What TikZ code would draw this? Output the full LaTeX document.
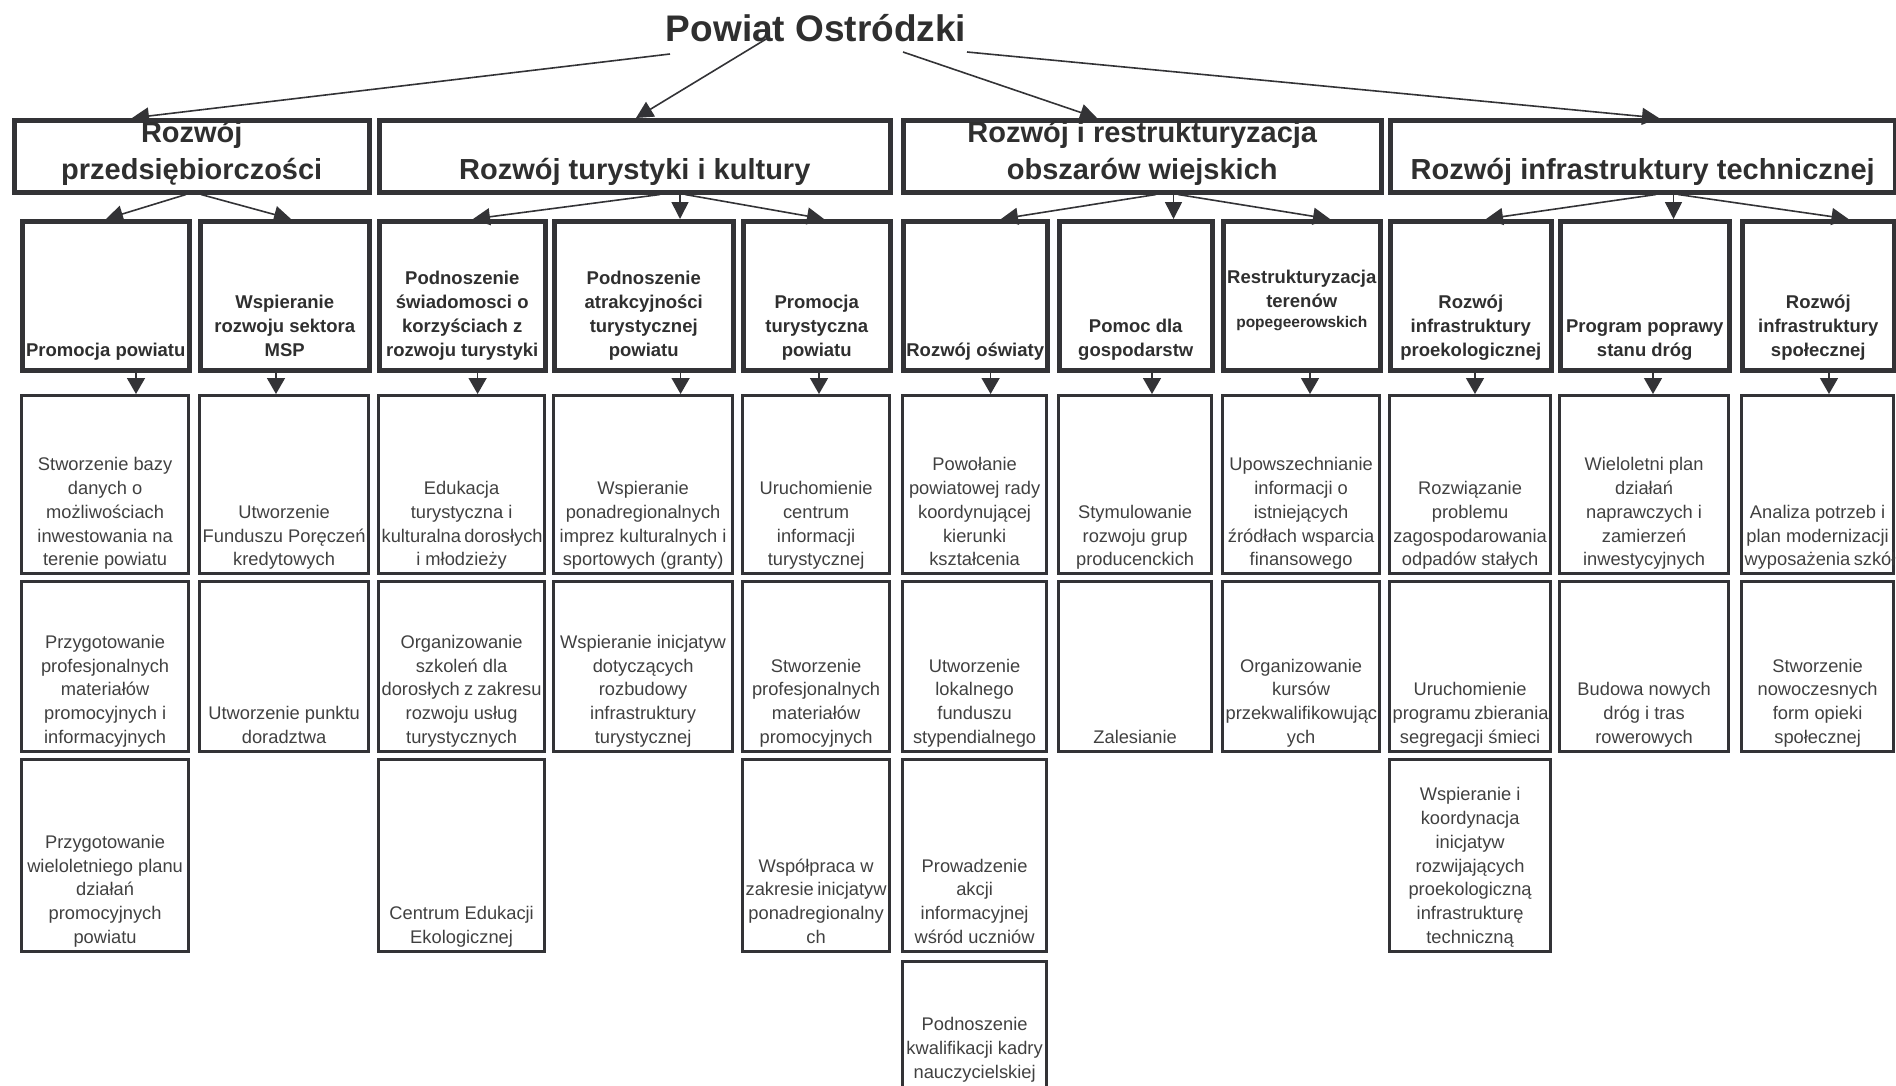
\documentclass[tikz,border=0pt]{standalone}
\usepackage{fontspec}
\setmainfont{Liberation Sans}
\usetikzlibrary{arrows.meta}
\definecolor{linec}{HTML}{333336}
\definecolor{txta}{HTML}{2F2F2F}
\definecolor{txtc}{HTML}{404040}
\newcommand\fontT{\fontsize{37}{44}\selectfont\bfseries}
\newcommand\fontA{\fontsize{29}{37}\selectfont\bfseries}
\newcommand\fontB{\fontsize{18.5}{24}\selectfont\bfseries}
\newcommand\fontC{\fontsize{18.3}{23.8}\selectfont}
\newcommand\bt[4]{\parbox[c][#2pt][b]{\dimexpr #1pt-6pt\relax}{\hyphenpenalty=10000 \exhyphenpenalty=10000 \centering #4\strut\par\vspace*{#3pt}}}
\begin{document}
\begin{tikzpicture}[x=1pt,y=-1pt,
  box/.style={draw=linec, anchor=north west, inner xsep=3pt, inner ysep=0pt, text=txta},
  bA/.style={box, line width=4.5pt, font=\fontA},
  bB/.style={box, line width=4.5pt, font=\fontB},
  bC/.style={box, line width=3.2pt, font=\fontC, text=txtc},
  arr/.style={draw=linec, line width=1.6pt, -{Triangle[length=17pt,width=17pt]}},
  arrs/.style={draw=linec, line width=1.5pt, -{Triangle[length=16pt,width=18pt]}},
  ]
\useasboundingbox (0,0) rectangle (1896,1085);

% title
\node[anchor=base, font=\fontT, text=txta, inner sep=0pt] (title) at (816,41.5) {Powiat Ostródzki};

% level 1
\node[bA] (l1a) at (12,118)   {\bt{355}{72}{1.5}{Rozwój\\przedsiębiorczości}};
\node[bA] (l1b) at (377,118)  {\bt{511}{72}{1.5}{Rozwój~turystyki~i~kultury}};
\node[bA] (l1c) at (901,118)  {\bt{478}{72}{1.5}{Rozwój~i~restrukturyzacja\\obszarów~wiejskich}};
\node[bA] (l1d) at (1388,118) {\bt{505}{72}{1.5}{Rozwój~infrastruktury~technicznej}};

% level 2
\node[bB] (c1)  at (20,219)   {\bt{167}{149}{6.5}{Promocja~powiatu}};
\node[bB] (c2)  at (198,219)  {\bt{169}{149}{6.5}{Wspieranie\\rozwoju~sektora\\MSP}};
\node[bB] (c3)  at (377,219)  {\bt{166}{149}{6.5}{Podnoszenie\\świadomosci~o\\korzyściach~z\\rozwoju~turystyki}};
\node[bB] (c4)  at (552,219)  {\bt{179}{149}{6.5}{Podnoszenie\\atrakcyjności\\turystycznej\\powiatu}};
\node[bB] (c5)  at (741,219)  {\bt{147}{149}{6.5}{Promocja\\turystyczna\\powiatu}};
\node[bB] (c6)  at (901,219)  {\bt{144}{149}{6.5}{Rozwój~oświaty}};
\node[bB] (c7)  at (1057,219) {\bt{153}{149}{6.5}{Pomoc~dla\\gospodarstw}};
\node[bB] (c8)  at (1221,219) {\bt{157}{149}{35.5}{Restrukturyzacja\\terenów\\[-4pt]{\fontsize{15.5}{24}\selectfont popegeerowskich}}};
\node[bB] (c9)  at (1388,219) {\bt{161}{149}{6.5}{Rozwój\\infrastruktury\\proekologicznej}};
\node[bB] (c10) at (1558,219) {\bt{169}{149}{6.5}{Program~poprawy\\stanu~dróg}};
\node[bB] (c11) at (1740,219) {\bt{152}{149}{6.5}{Rozwój\\infrastruktury\\społecznej}};

% level 3, row 1
\node[bC] (a1)  at (20,394)   {\bt{167}{178}{0.5}{Stworzenie~bazy\\danych~o\\możliwościach\\inwestowania~na\\terenie~powiatu}};
\node[bC] (a2)  at (198,394)  {\bt{169}{178}{0.5}{Utworzenie\\Funduszu~Poręczeń\\kredytowych}};
\node[bC] (a3)  at (377,394)  {\bt{166}{178}{0.5}{Edukacja\\turystyczna~i\\kulturalna~dorosłych\\i~młodzieży}};
\node[bC] (a4)  at (552,394)  {\bt{179}{178}{0.5}{Wspieranie\\ponadregionalnych\\imprez~kulturalnych~i\\sportowych~(granty)}};
\node[bC] (a5)  at (741,394)  {\bt{147}{178}{0.5}{Uruchomienie\\centrum\\informacji\\turystycznej}};
\node[bC] (a6)  at (901,394)  {\bt{144}{178}{0.5}{Powołanie\\powiatowej~rady\\koordynującej\\kierunki\\kształcenia}};
\node[bC] (a7)  at (1057,394) {\bt{153}{178}{0.5}{Stymulowanie\\rozwoju~grup\\producenckich}};
\node[bC] (a8)  at (1221,394) {\bt{157}{178}{0.5}{Upowszechnianie\\informacji~o\\istniejących\\źródłach~wsparcia\\finansowego}};
\node[bC] (a9)  at (1388,394) {\bt{161}{178}{0.5}{Rozwiązanie\\problemu\\zagospodarowania\\odpadów~stałych}};
\node[bC] (a10) at (1558,394) {\bt{169}{178}{0.5}{Wieloletni~plan\\działań\\naprawczych~i\\zamierzeń\\inwestycyjnych}};
\node[bC] (a11) at (1740,394) {\bt{152}{178}{0.5}{Analiza~potrzeb~i\\plan~modernizacji\\wyposażenia~szkół}};

% level 3, row 2
\node[bC] (b1)  at (20,580)   {\bt{167}{170}{1}{Przygotowanie\\profesjonalnych\\materiałów\\promocyjnych~i\\informacyjnych}};
\node[bC] (b2)  at (198,580)  {\bt{169}{170}{1}{Utworzenie~punktu\\doradztwa}};
\node[bC] (b3)  at (377,580)  {\bt{166}{170}{1}{Organizowanie\\szkoleń~dla\\dorosłych~z~zakresu\\rozwoju~usług\\turystycznych}};
\node[bC] (b4)  at (552,580)  {\bt{179}{170}{1}{Wspieranie~inicjatyw\\dotyczących\\rozbudowy\\infrastruktury\\turystycznej}};
\node[bC] (b5)  at (741,580)  {\bt{147}{170}{1}{Stworzenie\\profesjonalnych\\materiałów\\promocyjnych}};
\node[bC] (b6)  at (901,580)  {\bt{144}{170}{1}{Utworzenie\\lokalnego\\funduszu\\stypendialnego}};
\node[bC] (b7)  at (1057,580) {\bt{153}{170}{1}{Zalesianie}};
\node[bC] (b8)  at (1221,580) {\bt{157}{170}{1}{Organizowanie\\kursów\\przekwalifikowując\\ych}};
\node[bC] (b9)  at (1388,580) {\bt{161}{170}{1}{Uruchomienie\\programu~zbierania\\segregacji~śmieci}};
\node[bC] (b10) at (1558,580) {\bt{169}{170}{1}{Budowa~nowych\\dróg~i~tras\\rowerowych}};
\node[bC] (b11) at (1740,580) {\bt{152}{170}{1}{Stworzenie\\nowoczesnych\\form~opieki\\społecznej}};

% level 3, row 3
\node[bC] (d1)  at (20,758)   {\bt{167}{192}{1}{Przygotowanie\\wieloletniego~planu\\działań\\promocyjnych\\powiatu}};
\node[bC] (d3)  at (377,758)  {\bt{166}{192}{1}{Centrum~Edukacji\\Ekologicznej}};
\node[bC] (d5)  at (741,758)  {\bt{147}{192}{1}{Współpraca~w\\zakresie~inicjatyw\\ponadregionalny\\ch}};
\node[bC] (d6)  at (901,758)  {\bt{144}{192}{1}{Prowadzenie\\akcji\\informacyjnej\\wśród~uczniów}};
\node[bC] (d9)  at (1388,758) {\bt{161}{192}{1}{Wspieranie~i\\koordynacja\\inicjatyw\\rozwijających\\proekologiczną\\infrastrukturę\\techniczną}};

% level 3, row 4
\node[bC] (e6)  at (901,960)  {\bt{144}{132}{8}{Podnoszenie\\kwalifikacji~kadry\\nauczycielskiej}};

% arrows from title
\draw[arr] ([xshift=-146pt,yshift=-12.5pt]title.base) -- ([xshift=120pt]l1a.north west);
\draw[arr] ([xshift=-49pt,yshift=3pt]title.base) -- ([xshift=259pt]l1b.north west);
\draw[arr] ([xshift=87pt,yshift=-10.5pt]title.base) -- ([xshift=196pt]l1c.north west);
\draw[arr] ([xshift=151pt,yshift=-10.5pt]title.base) -- ([xshift=271pt]l1d.north west);

% level 1 -> level 2
\draw[arr] ([xshift=174pt]l1a.south west) -- ([xshift=86pt]c1.north west);
\draw[arr] ([xshift=189pt]l1a.south west) -- ([xshift=93pt]c2.north west);
\draw[arr] ([xshift=283pt]l1b.south west) -- ([xshift=96pt]c3.north west);
\draw[arr] ([xshift=303pt]l1b.south west) -- ([xshift=128pt]c4.north west);
\draw[arr] ([xshift=308pt]l1b.south west) -- ([xshift=83pt]c5.north west);
\draw[arr] ([xshift=255pt]l1c.south west) -- ([xshift=100pt]c6.north west);
\draw[arr] ([xshift=272.5pt]l1c.south west) -- ([xshift=116.5pt]c7.north west);
\draw[arr] ([xshift=277pt]l1c.south west) -- ([xshift=109pt]c8.north west);
\draw[arr] ([xshift=268pt]l1d.south west) -- ([xshift=98pt]c9.north west);
\draw[arr] ([xshift=285.5pt]l1d.south west) -- ([xshift=115.5pt]c10.north west);
\draw[arr] ([xshift=290pt]l1d.south west) -- ([xshift=108.5pt]c11.north west);

% level 2 -> level 3
\draw[arrs] ([xshift=116pt]c1.south west) -- ([xshift=116pt]a1.north west);
\draw[arrs] ([xshift=78pt]c2.south west) -- ([xshift=78pt]a2.north west);
\draw[arrs] ([xshift=100.6pt]c3.south west) -- ([xshift=100.6pt]a3.north west);
\draw[arrs] ([xshift=128.6pt]c4.south west) -- ([xshift=128.6pt]a4.north west);
\draw[arrs] ([xshift=78pt]c5.south west) -- ([xshift=78pt]a5.north west);
\draw[arrs] ([xshift=89.6pt]c6.south west) -- ([xshift=89.6pt]a6.north west);
\draw[arrs] ([xshift=95pt]c7.south west) -- ([xshift=95pt]a7.north west);
\draw[arrs] ([xshift=89pt]c8.south west) -- ([xshift=89pt]a8.north west);
\draw[arrs] ([xshift=87pt]c9.south west) -- ([xshift=87pt]a9.north west);
\draw[arrs] ([xshift=95pt]c10.south west) -- ([xshift=95pt]a10.north west);
\draw[arrs] ([xshift=89pt]c11.south west) -- ([xshift=89pt]a11.north west);
\end{tikzpicture}
\end{document}
